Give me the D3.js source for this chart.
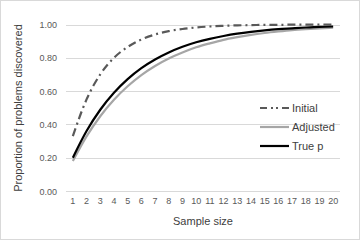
<!DOCTYPE html>
<html><head><meta charset="utf-8">
<script src="https://cdn.jsdelivr.net/npm/d3@7"></script>
<style>body{margin:0;background:#fff}svg{display:block}text{font-family:"Liberation Sans",Arial,sans-serif}</style>
</head><body><svg id="c" width="360" height="240"></svg>
<script>
const sampleSizes = [1,2,3,4,5,6,7,8,9,10,11,12,13,14,15,16,17,18,19,20];
const initial = [0.33,0.55,0.70,0.80,0.865,0.91,0.94,0.96,0.973,0.982,0.988,0.992,0.995,0.996,0.998,0.998,0.999,0.999,1.0,1.0];
const adjusted = [0.18,0.328,0.449,0.548,0.629,0.696,0.751,0.796,0.832,0.863,0.887,0.908,0.924,0.938,0.949,0.958,0.966,0.972,0.977,0.981];
const trueP = [0.20,0.36,0.488,0.59,0.672,0.738,0.79,0.832,0.866,0.893,0.914,0.931,0.945,0.956,0.965,0.972,0.977,0.982,0.986,0.988];
const yTicks = [0,0.2,0.4,0.6,0.8,1.0];
const seriesNames = ["Initial","Adjusted","True p"];

const svg = d3.select("#c");
svg.append("rect").attr("x",0.5).attr("y",0.5).attr("width",359).attr("height",239).attr("fill","#fff").attr("stroke","#d9d9d9");
const L=66,R=340,T=24.5,B=191;
const x = d3.scaleBand().domain(sampleSizes).range([L,R]);
const y = d3.scaleLinear().domain([0,1]).range([B,T]);
const g = svg.append("g");
g.selectAll("line.grid").data(yTicks).enter().append("line")
 .attr("x1",L).attr("x2",R).attr("y1",d=>Math.round(y(d))+0.5).attr("y2",d=>Math.round(y(d))+0.5)
 .attr("stroke","#d9d9d9").attr("stroke-width",1);
g.selectAll("text.yt").data(yTicks).enter().append("text")
 .attr("x",57).attr("y",d=>y(d)+3.5).attr("text-anchor","end").attr("font-size",9).attr("fill","#595959")
 .text(d=>d.toFixed(2));
g.selectAll("text.xt").data(sampleSizes).enter().append("text")
 .attr("x",d=>x(d)+x.bandwidth()/2).attr("y",204).attr("text-anchor","middle").attr("font-size",9).attr("fill","#595959")
 .text(d=>d);
svg.append("text").attr("x",(L+R)/2).attr("y",225).attr("text-anchor","middle").attr("font-size",11).attr("fill","#404040").text("Sample size");
svg.append("text").attr("transform","translate(22,108) rotate(-90)").attr("text-anchor","middle").attr("font-size",11).attr("fill","#404040").text("Proportion of problems discovered");

const line = d3.line().x((d,i)=>x(sampleSizes[i])+x.bandwidth()/2).y(d=>y(d)).curve(d3.curveMonotoneX);
const styles = [
 {data:initial,color:"#595959",dash:"8,4,2,4"},
 {data:adjusted,color:"#a6a6a6",dash:null},
 {data:trueP,color:"#000000",dash:null}
];
styles.forEach(s=>{
 const p = svg.append("path").attr("d",line(s.data)).attr("fill","none").attr("stroke",s.color).attr("stroke-width",2.2);
 if(s.dash) p.attr("stroke-dasharray",s.dash);
});
const ly=[108,127,146];
seriesNames.forEach((n,i)=>{
 const l = svg.append("line").attr("x1",260).attr("x2",289).attr("y1",ly[i]).attr("y2",ly[i]).attr("stroke",styles[i].color).attr("stroke-width",2.2);
 if(styles[i].dash) l.attr("stroke-dasharray","7,4,2,3,2,4,7");
 svg.append("text").attr("x",292).attr("y",ly[i]+4).attr("font-size",11).attr("fill","#404040").text(n);
});
</script></body></html>
